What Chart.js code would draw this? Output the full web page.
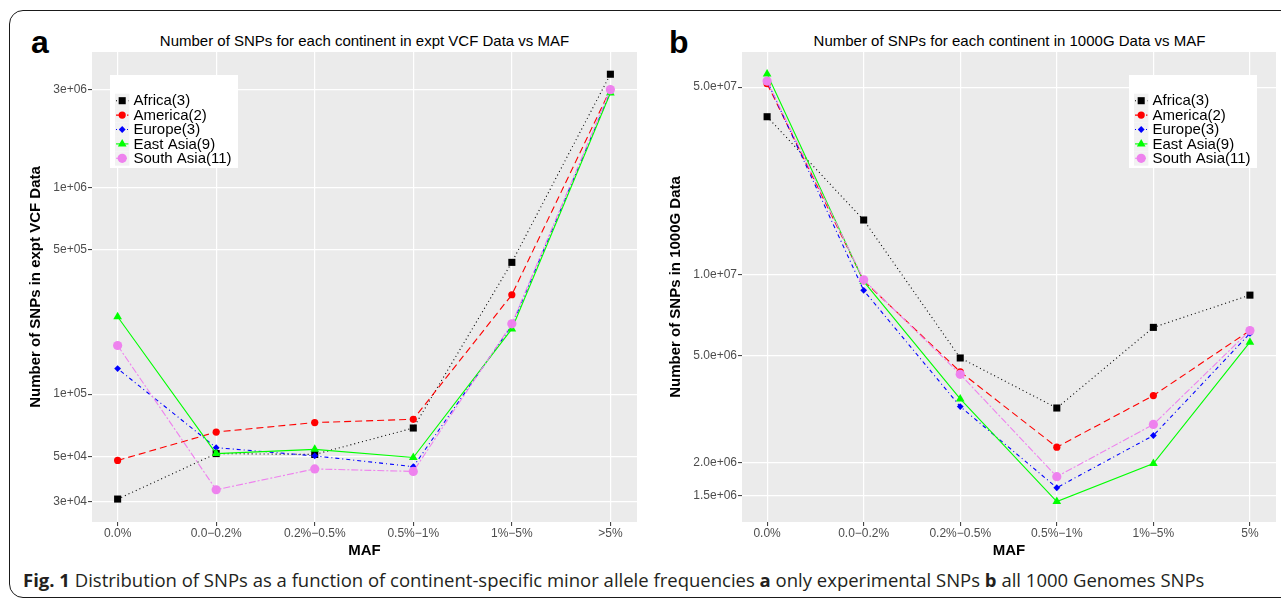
<!DOCTYPE html>
<html><head><meta charset="utf-8">
<script src="https://cdn.jsdelivr.net/npm/chart.js@4.4.1/dist/chart.umd.min.js"></script>
<style>
html,body{margin:0;padding:0;background:#fff;}
#page{position:relative;width:1281px;height:599px;overflow:hidden;background:#fff;}
.frame{position:absolute;left:9px;top:10px;width:1320px;height:588px;border:1.5px solid #1a1a1a;border-radius:14px;box-sizing:border-box;}
.letter{position:absolute;font-family:'Liberation Sans',Arial,sans-serif;font-weight:bold;font-size:32px;line-height:32px;color:#000;}
.ptitle{position:absolute;font-family:'Liberation Sans',Arial,sans-serif;font-size:15px;line-height:17px;white-space:nowrap;transform:translateX(-50%);color:#000;}
.caption{position:absolute;left:23px;top:568px;font-family:'Open Sans',sans-serif;font-size:18.5px;line-height:24px;white-space:nowrap;color:#231f20;}
.wrap{position:absolute;top:0;}
</style></head>
<body><div id="page">
<div class="frame"></div>
<div class="letter" style="left:31px;top:26px;">a</div>
<div class="letter" style="left:669px;top:26px;">b</div>
<div class="ptitle" style="left:364.5px;top:32px;">Number of SNPs for each continent in expt VCF Data vs MAF</div>
<div class="ptitle" style="left:1009.5px;top:32px;">Number of SNPs for each continent in 1000G Data vs MAF</div>
<div class="wrap" style="left:0;"><canvas id="cA" width="645" height="560"></canvas></div>
<div class="wrap" style="left:650px;"><canvas id="cB" width="631" height="560"></canvas></div>
<div class="caption"><b>Fig. 1</b> Distribution of SNPs as a function of continent-specific minor allele frequencies <b>a</b> only experimental SNPs <b>b</b> all 1000 Genomes SNPs</div>
</div>
<script>
// ---------- DATA ----------
const seriesNames = ['Africa(3)', 'America(2)', 'Europe(3)', 'East Asia(9)', 'South Asia(11)'];

const mafCatsA = ['0.0%', '0.0\u22120.2%', '0.2%\u22120.5%', '0.5%\u22121%', '1%\u22125%', '>5%'];
const mafCatsB = ['0.0%', '0.0\u22120.2%', '0.2%\u22120.5%', '0.5%\u22121%', '1%\u22125%', '5%'];

// Panel a: expt VCF data
const africaA    = [3.1e4, 5.15e4, 5.1e4, 6.85e4, 4.35e5, 3.55e6];
const americaA   = [4.77e4, 6.55e4, 7.28e4, 7.55e4, 3.03e5, 3.0e6];
const europeA    = [1.33e5, 5.5e4, 5.02e4, 4.45e4, 2.15e5, 2.92e6];
const eastAsiaA  = [2.37e5, 5.15e4, 5.4e4, 4.93e4, 2.07e5, 2.88e6];
const southAsiaA = [1.72e5, 3.44e4, 4.34e4, 4.22e4, 2.19e5, 2.99e6];

// Panel b: 1000G data
const africaB    = [3.88e7, 1.6e7, 4.9e6, 3.19e6, 6.37e6, 8.4e6];
const americaB   = [5.15e7, 9.5e6, 4.35e6, 2.28e6, 3.55e6, 6.2e6];
const europeB    = [5.27e7, 8.75e6, 3.23e6, 1.61e6, 2.52e6, 6.05e6];
const eastAsiaB  = [5.6e7, 9.45e6, 3.45e6, 1.43e6, 1.98e6, 5.61e6];
const southAsiaB = [5.27e7, 9.58e6, 4.26e6, 1.77e6, 2.77e6, 6.2e6];

const yTicksA = [3e4, 5e4, 1e5, 5e5, 1e6, 3e6];
const yTickLabelsA = ['3e+04', '5e+04', '1e+05', '5e+05', '1e+06', '3e+06'];
const yTicksB = [1.5e6, 2e6, 5e6, 1e7, 5e7];
const yTickLabelsB = ['1.5e+06', '2.0e+06', '5.0e+06', '1.0e+07', '5.0e+07'];

// ---------- STYLE ----------
const seriesStyles = [
  {color:'#000000', dash:[1,3], pointStyle:'rect', radius:5},
  {color:'#FF0000', dash:[7,4], pointStyle:'circle', radius:3.6},
  {color:'#0000FF', dash:[1,3,4,3], pointStyle:'rectRot', radius:3.4},
  {color:'#00FF00', dash:[], pointStyle:'triangle', radius:5},
  {color:'#EE82EE', dash:[7,2,2,2], pointStyle:'circle', radius:4.6}
];

const tickFont = {family:"'Liberation Sans', Arial, sans-serif", size:12};
const axisTitleFont = {family:"'Liberation Sans', Arial, sans-serif", size:15, weight:'bold'};

const panelBg = {
  id:'panelBg',
  beforeDraw(chart){
    const {ctx, chartArea:ca} = chart;
    ctx.save();
    ctx.fillStyle = '#EBEBEB';
    ctx.fillRect(ca.left, ca.top, ca.right-ca.left, ca.bottom-ca.top);
    ctx.restore();
  }
};

const ggLegend = {
  id:'ggLegend',
  afterDatasetsDraw(chart, args, opts){
    const ctx = chart.ctx, ca = chart.chartArea;
    const w = 128, h = 93;
    const x0 = opts.anchor === 'left' ? ca.left + opts.dx : ca.right - opts.dx - w;
    const y0 = ca.top + opts.dy;
    ctx.save();
    ctx.fillStyle = '#FFFFFF';
    ctx.fillRect(x0, y0, w, h);
    chart.data.datasets.forEach((ds, i) => {
      const cy = y0 + 25.7 + i*14.4;
      const kx = x0 + 5;
      ctx.fillStyle = '#F2F2F2';
      ctx.fillRect(kx, cy-7, 14.4, 14.4);
      ctx.strokeStyle = ds.borderColor;
      ctx.lineWidth = ds.borderWidth;
      ctx.setLineDash(ds.borderDash || []);
      ctx.beginPath(); ctx.moveTo(kx+1, cy); ctx.lineTo(kx+13.4, cy); ctx.stroke();
      ctx.setLineDash([]);
      ctx.fillStyle = ds.pointBackgroundColor;
      Chart.helpers.drawPoint(ctx, {pointStyle:ds.pointStyle, radius:ds.pointRadius, borderWidth:0, rotation:0}, kx+7.2, cy);
      ctx.fillStyle = '#000';
      ctx.font = "15px 'Liberation Sans', Arial, sans-serif";
      ctx.textBaseline = 'middle';
      ctx.textAlign = 'left';
      ctx.fillText(ds.label, kx+18.5, cy+0.5);
    });
    ctx.restore();
  }
};

function makeChart(id, cats, seriesVals, yTicks, yLabels, yMin, yMax, yTitle, yTitlePad, legendOpts, padRight){
  const datasets = seriesVals.map((vals, i) => ({
    label: seriesNames[i],
    data: vals.map((v, k) => ({x:k, y:v})),
    borderColor: seriesStyles[i].color,
    backgroundColor: seriesStyles[i].color,
    pointBackgroundColor: seriesStyles[i].color,
    borderWidth: 1.1,
    borderDash: seriesStyles[i].dash,
    pointStyle: seriesStyles[i].pointStyle,
    pointRadius: seriesStyles[i].radius,
    pointBorderWidth: 0,
    tension: 0,
    fill: false,
    order: seriesVals.length - 1 - i
  }));
  return new Chart(document.getElementById(id), {
    type:'line',
    data:{datasets},
    plugins:[panelBg, ggLegend],
    options:{
      responsive:false, animation:false, devicePixelRatio:1,
      layout:{padding:{top:52, left:0, right:padRight, bottom:0}},
      plugins:{legend:{display:false}, tooltip:{enabled:false}, title:{display:false}, ggLegend:legendOpts},
      scales:{
        x:{
          type:'linear', min:-0.26, max:5.27,
          afterBuildTicks: s => { s.ticks = cats.map((c, k) => ({value:k})); },
          afterFit: s => { s.height = 38; },
          ticks:{callback: v => cats[v], autoSkip:false, maxRotation:0, font:tickFont, color:'#4D4D4D', padding:0},
          grid:{color:'#FFFFFF', lineWidth:1.2, tickColor:'#333333', tickLength:4, tickWidth:1},
          border:{display:false},
          title:{display:true, text:'MAF', font:axisTitleFont, color:'#000', padding:{top:0, bottom:0.5}}
        },
        y:{
          type:'logarithmic', min:yMin, max:yMax,
          afterBuildTicks: s => { s.ticks = yTicks.map(v => ({value:v})); },
          afterFit: s => { s.width = 92; },
          ticks:{callback: v => yLabels[yTicks.indexOf(v)], font:tickFont, color:'#4D4D4D', padding:1},
          grid:{color:'#FFFFFF', lineWidth:1.2, tickColor:'#333333', tickLength:4, tickWidth:1},
          border:{display:false},
          title:{display:true, text:yTitle, font:axisTitleFont, color:'#000', padding:{top:yTitlePad, bottom:0}}
        }
      }
    }
  });
}

makeChart('cA', mafCatsA, [africaA, americaA, europeA, eastAsiaA, southAsiaA],
  yTicksA, yTickLabelsA, 2.4e4, 4.55e6, 'Number of SNPs in expt VCF Data', 27,
  {anchor:'left', dx:18, dy:23}, 8);
makeChart('cB', mafCatsB, [africaB, americaB, europeB, eastAsiaB, southAsiaB],
  yTicksB, yTickLabelsB, 1.2e6, 6.76e7, 'Number of SNPs in 1000G Data', 17,
  {anchor:'right', dx:19, dy:23}, 4);
</script>
</body></html>
